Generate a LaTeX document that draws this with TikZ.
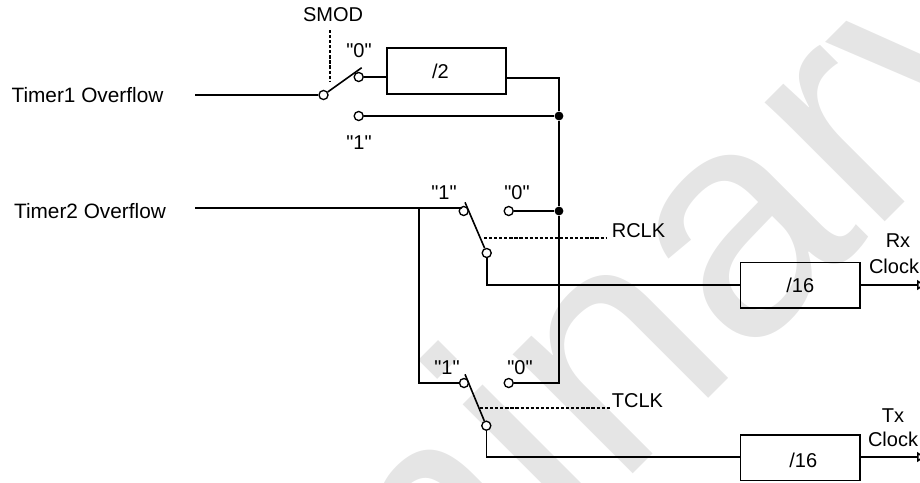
\documentclass[tikz,border=0pt]{standalone}
\usepackage{fontspec}
\newfontfamily\diagfont{Liberation Sans}
\usetikzlibrary{arrows.meta}
\tikzset{
    wire/.style={line width=1.2pt},
    ctrl/.style={line width=1.2pt, dash pattern=on 2.4pt off 1.4pt},
    term/.style={circle, draw, line width=1pt, fill=white, inner sep=0pt, minimum size=6.8pt},
    junc/.style={circle, fill=black, inner sep=0pt, minimum size=6.6pt},
    divbox/.style={rectangle, draw, line width=1.2pt, inner sep=0pt, minimum width=89.5pt, minimum height=34.2pt, font=\diagfont\fontsize{15}{18}\selectfont},
    lbl/.style={inner sep=0pt, font=\diagfont\fontsize{15}{18}\selectfont},
    biglbl/.style={inner sep=0pt, font=\diagfont\fontsize{15.6}{18}\selectfont},
    wmark/.style={text=black!10, inner sep=0pt, font=\diagfont\fontsize{240}{288}\selectfont}
}
\begin{document}
\begin{tikzpicture}[x=0.75pt, y=-0.75pt]
    \useasboundingbox (0,0) rectangle (920,482);
    \clip (0,0) rectangle (920,482);
    \node[wmark, rotate=45, anchor=base] (wm) at (492.4,614.6) {Preliminary};

    \node[biglbl] (timera) at (87.5,95) {Timer1 Overflow};
    \node[biglbl] (timerb) at (90,211) {Timer2 Overflow};
    \node[lbl] (smod) at (333,15) {SMOD};
    \node[lbl] (rclk) at (638.5,231) {RCLK};
    \node[lbl] (tclk) at (637.5,401) {TCLK};
    \node[lbl] (rx) at (898,241) {Rx};
    \node[lbl] (rxclk) at (894,266) {Clock};
    \node[lbl] (tx) at (893,416) {Tx};
    \node[lbl] (txclk) at (893,439) {Clock};
    \node[lbl] (azero) at (359,51) {"0"};
    \node[lbl] (aone) at (359,143) {"1"};
    \node[lbl] (bone) at (444,193) {"1"};
    \node[lbl] (bzero) at (517,193) {"0"};
    \node[lbl] (cone) at (447,368) {"1"};
    \node[lbl] (czero) at (520,368) {"0"};

    \node[divbox] (divtwo) at (446.5,71) {\hspace*{-9pt}/2};
    \node[divbox] (divrx) at (800.3,285.3) {/16};
    \node[divbox, text height=15.5pt] (divtx) at (800.3,457.5) {\hspace*{4.5pt}/16};

    \node[term] (ain) at (323.5,95) {};
    \node[term] (azt) at (358.7,77) {};
    \node[term] (aot) at (358.7,116) {};
    \node[term] (bot) at (463.7,211) {};
    \node[term] (bzt) at (508.7,211) {};
    \node[term] (bout) at (486.7,253) {};
    \node[term] (cot) at (464,383) {};
    \node[term] (czt) at (508.7,383) {};
    \node[term] (cout) at (486.3,425.7) {};
    \node[junc] (ja) at (559,116) {};
    \node[junc] (jb) at (559,211) {};

    \coordinate (astart) at (195,95);
    \coordinate (bstart) at (195,208);
    \coordinate (bfork) at (419,208);
    \coordinate (cfork) at (419,383);
    \coordinate (diva) at (506.5,78);
    \coordinate (divb) at (559,78);
    \coordinate (cjoin) at (559,383);
    \coordinate (bbend) at (486.7,285);
    \coordinate (cbend) at (486.3,457);
    \coordinate (arma) at (361.7,67.7);
    \coordinate (armb) at (465,202.3);
    \coordinate (armc) at (465,374.3);
    \coordinate (bturn) at (460,208);
    \coordinate (rxend) at (925,285);
    \coordinate (txend) at (925,457);
    \coordinate (sda) at (330,30);
    \coordinate (sdb) at (330,81);
    \coordinate (rda) at (484,238);
    \coordinate (rdb) at (606.7,238);
    \coordinate (tda) at (480,408);
    \coordinate (tdb) at (610,408);

    \draw[wire] (astart) -- (ain);
    \draw[wire] (ain) -- (arma);
    \draw[wire] (azt) -- (divtwo.west |- azt);
    \draw[wire] (diva) -- (divb) -- (ja);
    \draw[wire] (aot) -- (ja);
    \draw[wire] (ja) -- (jb);
    \draw[wire] (jb) -- (cjoin) -- (czt);
    \draw[wire] (bzt) -- (jb);
    \draw[wire] (bstart) -- (bturn) -- (bot);
    \draw[wire] (bfork) -- (cfork) -- (cot);
    \draw[wire] (armb) -- (bout);
    \draw[wire] (armc) -- (cout);
    \draw[wire] (bout) -- (bbend) -- (divrx.west |- bbend);
    \draw[wire] (cout) -- (cbend) -- (divtx.west |- cbend);
    \draw[wire, -{Triangle[open, length=6pt, width=7.5pt]}] (divrx.east |- rxend) -- (rxend);
    \draw[wire, -{Triangle[open, length=6pt, width=7.5pt]}] (divtx.east |- txend) -- (txend);

    \draw[ctrl] (sda) -- (sdb);
    \draw[ctrl] (rda) -- (rdb);
    \draw[ctrl] (tda) -- (tdb);
\end{tikzpicture}
\end{document}
